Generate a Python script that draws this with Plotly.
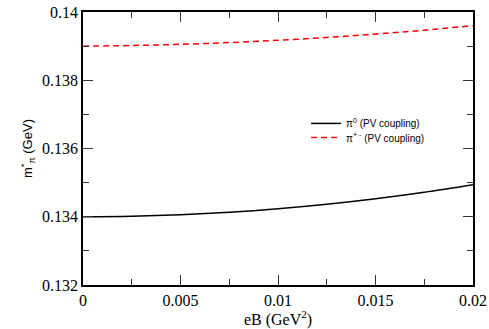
import plotly.graph_objects as go

eB = [0.0, 0.0025, 0.005, 0.0075, 0.01, 0.0125, 0.015, 0.0175, 0.02]
m_pi0 = [0.134000, 0.134015, 0.134059, 0.134132, 0.134235, 0.134367, 0.134529, 0.134720, 0.134940]
m_pipm = [0.139000, 0.139018, 0.139053, 0.139103, 0.139170, 0.139253, 0.139353, 0.139468, 0.139600]

name_pi0 = "π<sup>0</sup> (PV coupling)"
name_pipm = "π<sup>+ -</sup> (PV coupling)"

x_ticks = [0, 0.005, 0.01, 0.015, 0.02]
x_ticktext = ["0", "0.005", "0.01", "0.015", "0.02"]
y_ticks = [0.132, 0.134, 0.136, 0.138, 0.14]
y_ticktext = ["0.132", "0.134", "0.136", "0.138", "0.14"]

fig = go.Figure()
fig.add_trace(go.Scatter(x=eB, y=m_pi0, mode="lines", name=name_pi0, legend="legend",
                         line=dict(color="black", width=1.5, shape="spline")))
fig.add_trace(go.Scatter(x=eB, y=m_pipm, mode="lines", name=name_pipm, legend="legend2",
                         line=dict(color="red", width=1.5, dash="6px,4px", shape="spline")))

serif = "Liberation Serif"
sans = "Liberation Sans"
axis_common = dict(
    showgrid=False, zeroline=False, showline=True, linecolor="black", linewidth=1.5,
    mirror="allticks", ticks="inside", ticklen=10, tickwidth=1.2, tickcolor="#333",
    tickfont=dict(family=serif, size=16, color="black"), automargin=False,
)

fig.update_xaxes(range=[0, 0.02], tickvals=x_ticks, ticktext=x_ticktext,
                 minor=dict(dtick=0.0025, ticks="inside", ticklen=6, tickwidth=1.2, tickcolor="#333", showgrid=False),
                 title=dict(text="eB (GeV<sup>2</sup>)", font=dict(family=serif, size=16, color="black"), standoff=2),
                 **axis_common)
fig.update_yaxes(range=[0.132, 0.14], tickvals=y_ticks, ticktext=y_ticktext,
                 minor=dict(dtick=0.001, ticks="inside", ticklen=6, tickwidth=1.2, tickcolor="#333", showgrid=False),
                 title=dict(text="m<sup>*</sup><sub>π</sub> (GeV)", font=dict(family=sans, size=13, color="black"), standoff=6),
                 **axis_common)

legend_style = dict(xanchor="left", yanchor="top", bgcolor="rgba(0,0,0,0)", borderwidth=0,
                    font=dict(family=sans, size=10, color="black"), itemwidth=30)

fig.update_layout(
    width=489, height=329,
    margin=dict(l=83, r=16, t=12, b=44),
    plot_bgcolor="white", paper_bgcolor="white",
    showlegend=True,
    legend=dict(x=0.572, y=0.645, **legend_style),
    legend2=dict(x=0.572, y=0.593, **legend_style),
)

fig.write_html("out.html", config={"displayModeBar": False},
               post_script="document.body.style.margin='0';")
